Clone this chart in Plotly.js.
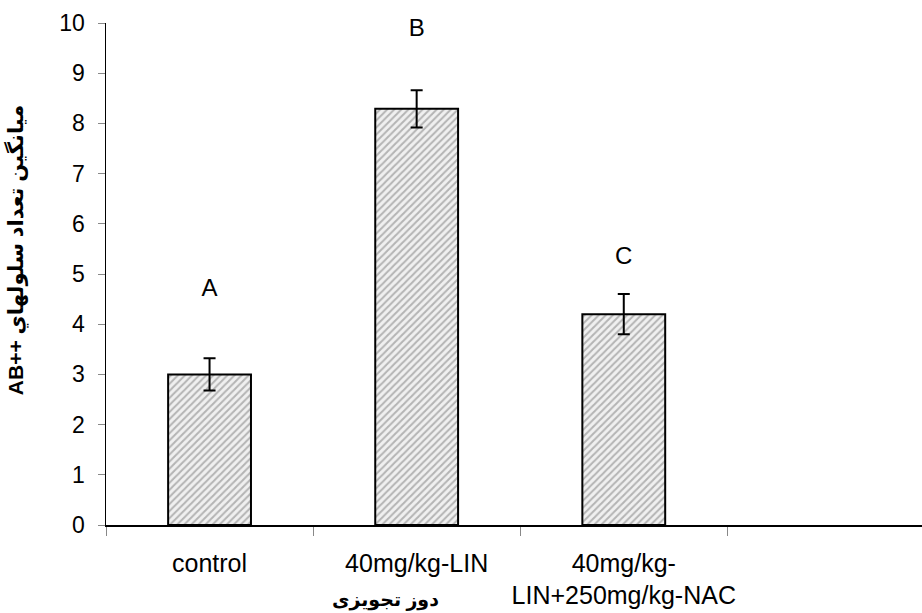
<!DOCTYPE html>
<html>
<head>
<meta charset="utf-8">
<script src="https://cdn.plot.ly/plotly-3.0.1.min.js"></script>
<style>html,body{margin:0;padding:0;background:#fff;}#chart{width:922px;height:613px;}</style>
</head>
<body>
<div id="chart"></div>
<script>
const categories = ["control", "40mg/kg-LIN", "40mg/kg-<br>LIN+250mg/kg-NAC"];
const means = [3.0, 8.29, 4.2];
const errors = [0.32, 0.37, 0.4];
const letters = ["A", "B", "C"];
const letterY = [4.68, 9.86, 5.32];
const yTitle = "AB++ ميانگين تعداد سلولهاي";
const xTitle = "دوز تجويزى";

const font = "Liberation Sans, Arial, DejaVu Sans, sans-serif";

const bars = {
  type: "bar",
  x: categories,
  y: means,
  width: 0.4,
  marker: {
    color: "#e6e6e6",
    line: {color: "#000", width: 2},
    pattern: {shape: "/", fgcolor: "#b4b4b4", bgcolor: "#f0f0f0", size: 5, solidity: 0.4}
  },
  error_y: {type: "data", array: errors, visible: true, color: "#000", thickness: 2, width: 6},
  hoverinfo: "none",
  showlegend: false
};

const labels = {
  type: "scatter",
  mode: "text",
  x: categories,
  y: letterY,
  text: letters,
  textposition: "middle center",
  textfont: {family: font, size: 24, color: "#000"},
  cliponaxis: false,
  hoverinfo: "none",
  showlegend: false
};

const layout = {
  width: 922, height: 613,
  margin: {l: 106, r: 0, t: 23, b: 88},
  paper_bgcolor: "#fff", plot_bgcolor: "#fff",
  font: {family: font, color: "#000"},
  xaxis: {
    type: "category",
    range: [-0.5, 3.44],
    showline: true, linecolor: "#000", linewidth: 1.5,
    ticks: "outside", ticklen: 9, tickcolor: "#888", tickwidth: 1,
    tickson: "boundaries",
    tickangle: 0,
    tickfont: {family: font, size: 25, color: "#000"},
    ticklabelstandoff: 15,
    showgrid: false, zeroline: false, fixedrange: true
  },
  yaxis: {
    range: [0, 10],
    tickvals: [0,1,2,3,4,5,6,7,8,9,10],
    showline: true, linecolor: "#000", linewidth: 1.5,
    ticks: "outside", ticklen: 7, tickcolor: "#888", tickwidth: 1,
    tickfont: {family: font, size: 23, color: "#000"},
    ticklabelstandoff: 8,
    showgrid: false, zeroline: false, fixedrange: true
  },
  annotations: [
    {text: yTitle, xref: "paper", yref: "paper", x: -0.11, y: 0.548,
     xanchor: "center", yanchor: "middle", textangle: -90, showarrow: false,
     font: {family: font, size: 21, color: "#000", weight: "bold"}},
    {text: xTitle, xref: "paper", yref: "paper", x: 0.343, y: -0.15,
     xanchor: "center", yanchor: "middle", showarrow: false,
     font: {family: font, size: 19, color: "#000", weight: "bold"}}
  ],
  showlegend: false
};

Plotly.newPlot("chart", [bars, labels], layout, {staticPlot: true, displayModeBar: false});
</script>
</body>
</html>
